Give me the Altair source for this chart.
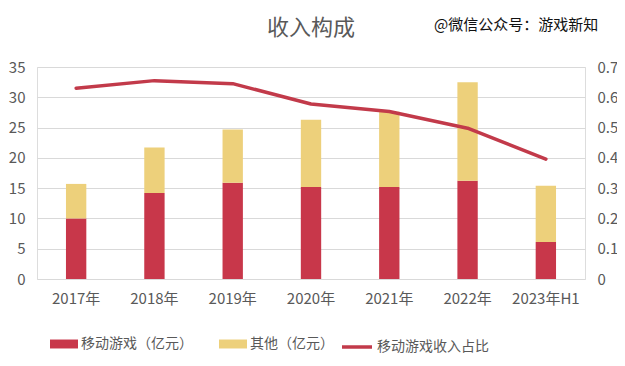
import altair as alt
import pandas as pd

years = ["2017年", "2018年", "2019年", "2020年", "2021年", "2022年", "2023年H1"]
mobile = [10.0, 14.2, 15.9, 15.2, 15.2, 16.2, 6.1]
other = [5.7, 7.5, 8.8, 11.1, 12.4, 16.3, 9.3]
ratio = [0.63, 0.655, 0.645, 0.578, 0.553, 0.498, 0.396]
series = ["移动游戏（亿元）", "其他（亿元）"]
line_name = "移动游戏收入占比"

FONT = "Noto Sans CJK SC"
GRAY = "#595959"
RED = "#C8374A"
YELLOW = "#EDD07B"
LINE_RED = "#C23A4A"

rows = []
for i, y in enumerate(years):
    rows.append({"year": y, "series": series[0], "value": mobile[i], "ord": 0})
    rows.append({"year": y, "series": series[1], "value": other[i], "ord": 1})
bars_df = pd.DataFrame(rows)
line_df = pd.DataFrame({"year": years, "ratio": ratio, "name": [line_name] * len(years)})

xenc = alt.X("year:N", sort=years, title=None,
             scale=alt.Scale(paddingInner=0.74, paddingOuter=0.37),
             axis=alt.Axis(labelAngle=0, ticks=False, domain=False, labelPadding=12,
                           labelFontSize=15, labelColor=GRAY, labelFont=FONT))

bars = alt.Chart(bars_df).mark_bar().encode(
    x=xenc,
    y=alt.Y("value:Q", stack="zero", title=None,
            scale=alt.Scale(domain=[0, 35], nice=False),
            axis=alt.Axis(values=[0, 5, 10, 15, 20, 25, 30, 35], ticks=False, domain=False,
                          grid=True, gridColor="#D9D9D9", labelPadding=12,
                          labelFontSize=15, labelColor=GRAY, labelFont=FONT)),
    color=alt.Color("series:N", scale=alt.Scale(domain=series, range=[RED, YELLOW]),
                    legend=alt.Legend(orient="none", legendX=13, legendY=263, direction="horizontal",
                                      title=None, symbolType="M-1,-0.32H1V0.32H-1Z", symbolSize=784,
                                      symbolStrokeWidth=0, labelFontSize=14, labelColor=GRAY,
                                      labelFont=FONT, labelOffset=3, columnPadding=26, padding=0)),
    order=alt.Order("ord:Q", sort="ascending"),
)

line = alt.Chart(line_df).mark_line(strokeWidth=3.5, strokeCap="round", strokeJoin="round").encode(
    x=alt.X("year:N", sort=years),
    y=alt.Y("ratio:Q", title=None, scale=alt.Scale(domain=[0, 0.7], nice=False),
            axis=alt.Axis(orient="right", values=[0, 0.1, 0.2, 0.3, 0.4, 0.5, 0.6, 0.7],
                          ticks=False, domain=False, grid=False, labelPadding=12,
                          labelFontSize=15, labelColor=GRAY, labelFont=FONT,
                          labelExpr="datum.value == 0 ? '0' : format(datum.value, '.1f')")),
    stroke=alt.Stroke("name:N", scale=alt.Scale(domain=[line_name], range=[LINE_RED]),
                      legend=alt.Legend(orient="none", legendX=303, legendY=263, direction="horizontal",
                                        title=None, symbolType="stroke", symbolSize=900,
                                        symbolStrokeWidth=3.5, labelFontSize=14, labelColor=GRAY,
                                        labelFont=FONT, labelOffset=3, padding=0)),
)

title = alt.Chart(pd.DataFrame({"t": ["收入构成"]})).mark_text(
    font=FONT, fontSize=22, color=GRAY, align="center", baseline="middle"
).encode(text="t:N", x=alt.value(274), y=alt.value(-39))

mark = alt.Chart(pd.DataFrame({"t": ["@微信公众号：游戏新知"]})).mark_text(
    font=FONT, fontSize=15, color="#111111", align="left", baseline="middle"
).encode(text="t:N", x=alt.value(397), y=alt.value(-42))

chart = alt.layer(bars, line, title, mark).resolve_scale(
    y="independent", color="independent", stroke="independent"
).properties(
    width=548, height=212,
    autosize=alt.AutoSizeParams(type="none"),
    padding={"left": 29, "top": 59, "right": 32, "bottom": 79},
).configure_view(stroke=None).configure(background="white")

chart.save("out.html", embed_options={"renderer": "svg", "actions": False})
